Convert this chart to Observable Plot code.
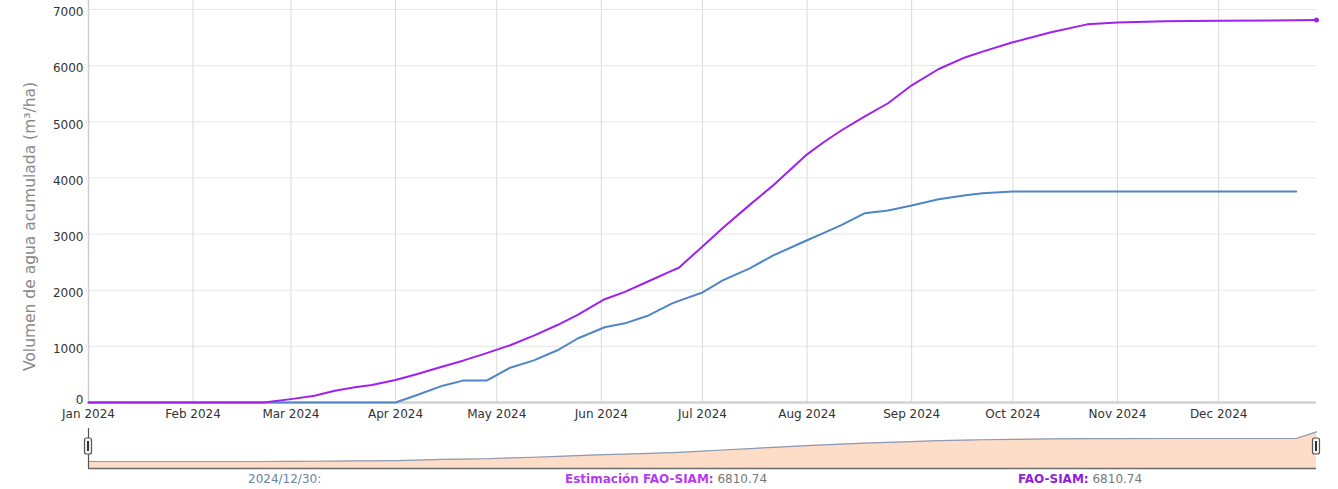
<!DOCTYPE html>
<html><head><meta charset="utf-8">
<script src="https://cdn.jsdelivr.net/npm/d3@7"></script>
<script src="https://cdn.jsdelivr.net/npm/@observablehq/plot@0.6"></script>
<style>
body{margin:0;background:#fff;font-family:"DejaVu Sans",sans-serif;}
#chart{position:relative;width:1338px;height:489px;overflow:hidden;background:#fff}
#chart svg{display:block}
#legend{position:relative;height:17px;font-size:12px;line-height:14px;}
#legend span.item{position:absolute;top:0;white-space:nowrap}
</style></head><body><div id="chart"></div>
<script>
// ---- data ----
const dates = ["2024-01-01","2024-02-01","2024-02-22","2024-03-01","2024-03-08","2024-03-14","2024-03-20","2024-03-25",
  "2024-04-01","2024-04-07","2024-04-15","2024-04-21","2024-04-28","2024-05-05","2024-05-12","2024-05-19","2024-05-25",
  "2024-06-02","2024-06-08","2024-06-15","2024-06-22","2024-06-24","2024-07-01","2024-07-07","2024-07-15","2024-07-22",
  "2024-08-01","2024-08-06","2024-08-11","2024-08-18","2024-08-25","2024-09-01","2024-09-09","2024-09-17","2024-09-22",
  "2024-10-01","2024-10-12","2024-10-23","2024-11-01","2024-11-15","2024-12-01","2024-12-24","2024-12-30"];
const estimacion = [0,0,0,60,120,210,270,310,
  400,500,640,745,880,1020,1190,1380,1560,
  1840,1970,2160,2350,2400,2780,3110,3520,3870,
  4420,4640,4840,5090,5330,5650,5940,6150,6250,
  6415,6590,6735,6770,6790,6800,6808,6810.74];
const faoSiam = [0,0,0,0,0,0,0,0,
  0,125,300,390,390,620,750,930,1140,
  1340,1410,1550,1765,1810,1960,2175,2390,2620,
  2890,3020,3155,3370,3420,3510,3620,3690,3725,
  3760,3760,3760,3760,3760,3760,3760,null];
const seriesNames = ["Estimación FAO-SIAM","FAO-SIAM"];
const seriesColors = ["#a020f0","#4f86c6"];
const yTicks = [0,1000,2000,3000,4000,5000,6000,7000];
const monthTicks = ["2024-01-01","2024-02-01","2024-03-01","2024-04-01","2024-05-01","2024-06-01",
  "2024-07-01","2024-08-01","2024-09-01","2024-10-01","2024-11-01","2024-12-01"];
const yLabel = "Volumen de agua acumulada (m³/ha)";
const legendDate = "2024/12/30:";
const legendValues = ["6810.74","6810.74"];

// ---- build ----
const parse = d3.utcParse("%Y-%m-%d");
const rows = dates.map((d,i)=>({date: parse(d), est: estimacion[i], fao: faoSiam[i]}));
const monthDates = monthTicks.map(parse);
const xDomain = [rows[0].date, rows[rows.length-1].date];
const last = rows[rows.length-1];

const main = Plot.plot({
  width:1338, height:424, marginLeft:88, marginRight:22, marginTop:0, marginBottom:22,
  style:{fontFamily:"DejaVu Sans", fontSize:"12px", color:"#333", background:"#fff", overflow:"visible"},
  x:{type:"utc", domain:xDomain},
  y:{domain:[0,7160]},
  marks:[
    Plot.gridX(monthDates, {stroke:"#dadada", strokeOpacity:1}),
    Plot.gridY(yTicks, {stroke:"#e6e6e6", strokeOpacity:1}),
    Plot.ruleX([xDomain[0]], {stroke:"#cfcfcf", strokeWidth:1.5}),
    Plot.ruleY([0], {stroke:"#d2d2d2", strokeWidth:2.5}),
    Plot.line(rows, {x:"date", y:"fao", stroke:seriesColors[1], strokeWidth:2}),
    Plot.line(rows, {x:"date", y:"est", stroke:seriesColors[0], strokeWidth:2}),
    Plot.dot([last], {x:"date", y:"est", r:2.5, fill:seriesColors[0]}),
    Plot.axisX(monthDates, {tickFormat:d3.utcFormat("%b %Y"), tickSize:0, tickPadding:7, label:null, fill:"#333"}),
    Plot.axisY(yTicks.filter(t => t > 0), {tickFormat:d => String(d), tickSize:0, tickPadding:5, dy:3, label:null, fill:"#333"}),
    Plot.axisY(yTicks.filter(t => t === 0), {tickFormat:d => String(d), tickSize:0, tickPadding:5, dy:-2, label:null, fill:"#333"}),
    Plot.text([yLabel], {frameAnchor:"left", textAnchor:"middle", rotate:-90, dx:-58, dy:25, fontSize:15.5, fill:"#888"})
  ]
});

const yMini = [-1607, 7576];
const meanOf = d => d3.mean([d.est, d.fao]);
function handles(index, scales, values, dims) {
  const g = d3.create("svg:g");
  for (const d of xDomain) {
    const x = scales.x(d);
    g.append("rect").attr("x", x-3.5).attr("y", dims.marginTop+10).attr("width",7).attr("height",16)
      .attr("rx",2).attr("fill","#f6f6f6").attr("stroke","#555").attr("stroke-width",1.2);
    g.append("line").attr("x1", x).attr("x2", x).attr("y1", dims.marginTop+13).attr("y2", dims.marginTop+23)
      .attr("stroke","#333").attr("stroke-width",2);
  }
  return g.node();
}
const range = Plot.plot({
  width:1338, height:48, marginLeft:88, marginRight:22, marginTop:4, marginBottom:4,
  style:{background:"#fff", overflow:"visible"},
  x:{type:"utc", domain:xDomain, axis:null},
  y:{domain:yMini, axis:null},
  marks:[
    Plot.areaY(rows, {x:"date", y1:yMini[0], y2:meanOf, fill:"#fddcc8"}),
    Plot.lineY(rows, {x:"date", y:meanOf, stroke:"#8c9ab2", strokeWidth:1.2}),
    Plot.ruleY([yMini[0]], {stroke:"#6a6a6a", strokeWidth:1.5}),
    Plot.ruleX([xDomain[0]], {stroke:"#555", strokeWidth:1.2}),
    handles
  ]
});

const chart = document.getElementById("chart");
chart.appendChild(main);
chart.appendChild(range);
const legend = document.createElement("div");
legend.id = "legend";
const items = [
  {left:248, html:`<span style="color:#6b84a3">${legendDate}</span>`},
  {left:565, html:`<b style="color:#b43cf0">${seriesNames[0]}:</b> <span style="color:#777">${legendValues[0]}</span>`},
  {left:1018, html:`<b style="color:#8e1fd6">${seriesNames[1]}:</b> <span style="color:#777">${legendValues[1]}</span>`}
];
for (const it of items) {
  const s = document.createElement("span");
  s.className = "item"; s.style.left = it.left + "px"; s.innerHTML = it.html;
  legend.appendChild(s);
}
chart.appendChild(legend);
</script></body></html>
